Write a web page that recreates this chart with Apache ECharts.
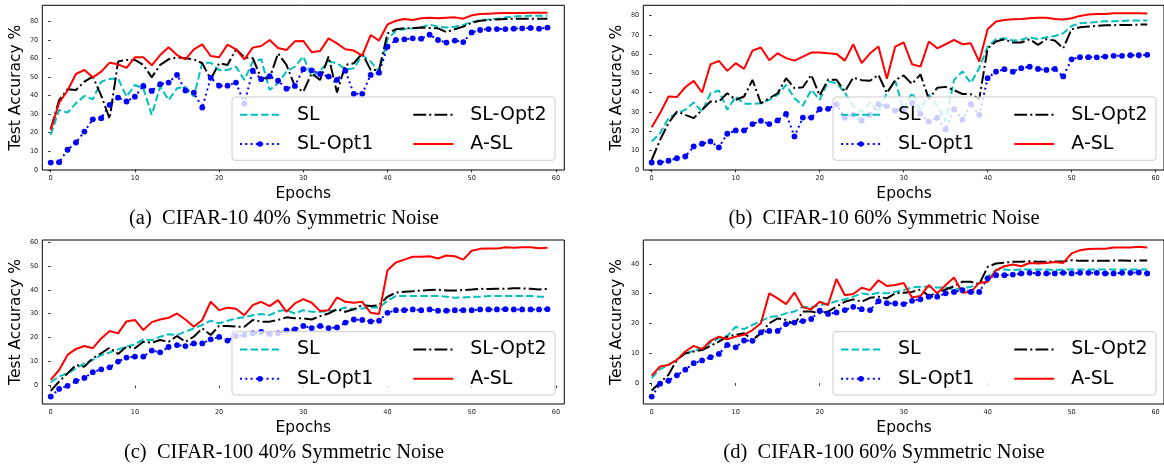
<!DOCTYPE html>
<html>
<head>
<meta charset="utf-8">
<script src="https://cdn.jsdelivr.net/npm/echarts@6/dist/echarts.min.js"></script>
<style>html,body{margin:0;padding:0;background:#fff;}#chart{width:1164px;height:468px;}</style>
</head>
<body>
<div id="chart"></div>
<script>
// ---------------- data ----------------
const seriesNames = ['SL', 'SL-Opt1', 'SL-Opt2', 'A-SL'];
const xTicks = [0, 10, 20, 30, 40, 50, 60];
const yTicksA = [0, 10, 20, 30, 40, 50, 60, 70, 80];
const yTicksB = [0, 10, 20, 30, 40, 50, 60, 70, 80];
const yTicksC = [0, 10, 20, 30, 40, 50, 60];
const yTicksD = [0, 10, 20, 30, 40];
const captions = ['(a)  CIFAR-10 40% Symmetric Noise', '(b)  CIFAR-10 60% Symmetric Noise',
                  '(c)  CIFAR-100 40% Symmetric Noise', '(d)  CIFAR-100 60% Symmetric Noise'];

// (a) CIFAR-10 40%
const a_SL = [18.8,32.3,30.8,35.9,39.8,38.0,47.5,48.9,49.3,39.4, 45.7,43.9,29.6,44.8,37.6,43.9,44.8,39.4,57.7,57.7,
  53.8,53.8,55.6,48.4,58.3,59.5,43.0,46.6,52.9,55.6, 61.0,50.2,53.4,58.3,57.4,54.1,54.7,61.8,58.3,52.9,
  70.3,74.9,75.7,76.2,76.7,78.2,77.1,76.7,77.1,78.0, 79.6,80.7,81.0,81.4,82.1,82.5,82.8,83.0,83.0,83.0];
const a_Opt1 = [3.9,4.1,10.8,14.7,20.6,27.2,27.8,35.0,38.9,36.8, 39.4,45.2,42.5,46.1,47.0,51.1,42.7,41.6,33.5,49.6,
  45.3,45.3,47.0,35.7,53.4,48.8,50.4,48.0,43.7,45.2, 54.2,53.6,51.6,50.2,48.4,53.4,40.9,40.9,51.1,52.3,
  66.3,69.9,70.3,70.8,70.6,72.8,69.9,68.5,69.6,68.8, 74.0,75.3,75.8,75.8,75.8,76.0,76.2,76.4,76.0,76.6];
const a_Opt2 = [21.9,37.6,43.4,43.0,47.5,50.2,40.0,27.5,58.3,59.2, 59.2,56.5,49.8,56.5,59.5,60.6,60.1,59.5,57.4,48.8,
  57.4,56.5,64.9,60.6,60.1,49.3,49.3,62.7,56.5,45.0, 42.0,52.0,48.4,61.0,41.6,56.5,57.4,62.7,53.8,53.8,
  73.5,75.7,76.2,76.2,76.6,76.4,76.2,74.2,75.7,77.1, 79.2,80.3,80.7,81.0,81.2,81.4,81.4,81.4,81.4,81.4];
const a_ASL = [21.5,36.2,42.7,51.6,53.8,49.8,52.9,57.7,56.8,54.9, 60.6,60.6,56.3,61.8,66.0,61.8,59.5,64.9,67.6,61.3,
  60.6,67.4,64.9,59.5,65.8,66.7,69.9,65.6,64.5,69.2, 69.4,63.3,64.0,70.8,68.1,64.9,64.2,61.5,72.6,69.6,
  78.3,80.3,81.2,80.7,81.6,81.9,81.6,81.9,82.1,81.4, 83.2,83.9,84.1,84.3,84.4,84.4,84.5,84.6,84.6,84.6];

// (b) CIFAR-10 60%
const b_SL = [14.7,19.0,26.8,29.4,31.1,34.9,30.2,39.7,41.1,31.1, 38.0,34.2,34.2,34.5,36.3,38.9,44.0,37.1,33.2,41.5,
  36.3,45.8,45.0,40.0,33.0,30.0,35.0,30.0,40.0,46.0, 31.0,40.0,31.0,39.0,33.0,25.0,46.6,51.0,45.0,52.7,
  63.9,67.7,68.2,67.0,67.4,68.7,67.7,68.7,69.4,70.8, 74.6,76.0,76.3,76.7,77.0,77.0,77.2,77.4,77.4,77.4];
const b_Opt1 = [3.8,3.8,4.7,6.0,6.9,12.1,13.5,14.7,11.6,18.7, 20.4,20.4,23.7,25.4,23.7,25.6,29.0,17.3,27.1,27.1,
  31.4,31.6,33.9,27.0,28.5,25.5,28.5,34.0,33.0,30.7, 31.0,34.6,29.0,25.0,27.0,21.0,31.5,26.0,34.0,28.5,
  47.5,50.9,52.2,50.9,52.7,53.5,52.3,51.8,52.3,48.4, 57.3,58.4,58.4,58.3,58.7,59.1,59.1,59.4,59.4,59.6];
const b_Opt2 = [5.2,15.5,24.2,30.2,28.5,26.8,31.1,35.4,35.4,39.7, 36.3,38.0,46.6,34.5,37.1,39.7,47.5,42.3,42.8,49.2,
  38.5,46.8,46.7,40.6,47.8,46.5,46.2,49.2,39.8,46.5, 48.9,44.5,49.5,36.7,42.5,43.0,41.3,39.3,39.2,36.6,
  63.0,66.5,67.7,66.0,66.0,67.7,64.8,67.7,67.0,63.0, 72.9,73.9,74.3,74.6,75.0,75.0,75.1,75.1,75.3,75.3];
const b_ASL = [22.1,29.4,38.0,37.7,42.8,46.1,40.1,54.7,56.5,51.3, 55.3,52.3,61.8,63.4,56.8,60.4,57.9,56.6,58.7,60.8,
  60.8,60.4,60.1,56.6,65.1,55.3,60.4,63.9,47.2,63.9, 66.1,54.7,53.5,66.5,63.0,65.1,67.4,65.1,65.6,56.1,
  72.9,76.9,77.7,78.1,78.2,78.6,78.8,78.8,78.2,77.9, 78.6,79.8,80.5,80.8,80.8,81.2,81.2,81.2,81.2,81.0];

// (c) CIFAR-100 40%
const c_SL = [1.4,3.8,5.1,7.2,9.3,10.7,12.8,13.8,15.1,16.3, 17.2,19.3,19.0,20.4,21.4,21.1,22.5,23.9,25.3,27.1,
  26.0,27.1,28.1,28.5,29.4,29.9,29.4,31.1,31.5,30.1, 31.5,30.8,30.8,31.1,31.5,32.6,31.9,32.2,32.6,32.6,
  35.4,37.4,37.4,37.4,37.4,37.4,37.4,37.1,36.7,36.8, 37.1,37.1,37.4,37.4,37.4,37.4,37.4,37.4,37.1,37.1];
const c_Opt1 = [-4.6,-1.4,-0.1,1.9,3.2,5.6,6.8,7.6,10.0,11.7, 12.1,12.1,14.6,13.9,16.1,16.9,16.5,17.6,17.6,19.3,
  20.3,18.8,20.7,21.1,21.8,22.4,21.5,21.8,23.0,23.5, 24.9,24.0,24.9,24.0,24.3,26.3,27.6,27.4,26.8,27.1,
  30.4,31.5,31.5,31.8,31.5,31.8,31.3,31.3,31.5,31.5, 31.5,31.8,31.8,31.8,31.9,31.8,31.8,31.8,31.8,31.9];
const c_Opt2 = [-2.2,1.7,5.1,8.6,7.9,11.4,13.5,15.8,13.2,16.3, 15.6,18.3,17.9,19.0,18.3,20.7,18.3,20.4,23.9,21.1,
  24.9,24.9,24.6,24.6,27.4,26.7,26.7,27.4,28.5,28.1, 28.1,27.6,29.0,30.1,31.9,30.8,31.9,33.6,33.2,33.6,
  37.1,38.8,39.2,39.4,39.7,39.9,40.1,39.7,39.7,39.9, 40.1,40.4,40.3,40.4,40.4,40.6,40.6,40.4,40.1,40.4];
const c_ASL = [2.4,6.5,12.8,15.3,16.5,15.6,19.7,22.8,21.8,26.8, 27.4,23.2,26.5,27.6,28.3,30.1,27.6,24.6,27.4,35.0,
  31.5,32.5,32.1,29.4,33.6,35.0,33.2,35.7,30.8,34.3, 36.1,34.6,31.1,31.5,36.8,35.0,34.6,35.0,30.4,29.9,
  48.2,51.4,52.6,53.8,53.8,54.0,53.1,54.3,54.0,52.6, 56.3,57.1,57.2,57.2,57.8,57.6,57.8,57.8,57.4,57.6];

// (d) CIFAR-100 60%
const d_SL = [1.7,4.7,6.1,8.0,9.8,10.9,11.7,13.6,15.0,15.8, 18.9,18.1,19.5,20.9,22.1,22.5,23.4,24.0,25.6,25.4,
  26.2,26.5,27.5,28.1,29.0,30.1,29.7,30.3,30.1,30.6, 31.2,32.1,32.3,32.3,32.1,32.1,31.4,31.8,32.3,33.4,
  35.7,37.9,38.1,37.9,38.1,38.1,38.1,38.1,37.9,38.1, 38.1,38.1,38.1,38.1,38.1,38.1,38.1,38.1,38.1,38.1];
const d_Opt1 = [-4.5,-0.2,0.8,2.6,4.5,6.7,7.6,8.7,9.8,12.8, 12.0,14.3,14.2,17.0,17.5,17.5,19.8,20.3,20.8,21.5,
  24.3,23.2,23.7,24.5,25.6,24.8,24.5,27.5,26.8,26.7, 26.5,27.6,28.1,29.0,29.0,30.1,30.6,31.2,30.6,30.6,
  35.1,36.2,36.2,36.4,36.8,37.0,36.8,36.8,36.8,37.0, 36.8,37.0,37.0,37.0,36.8,36.8,37.0,37.0,37.1,36.8];
const d_Opt2 = [-2.5,0.2,2.8,7.8,10.0,10.6,11.1,12.5,13.9,15.6, 16.2,16.7,14.5,16.7,20.1,21.7,21.2,19.8,24.0,24.0,
  23.4,24.0,25.6,27.3,28.1,27.3,28.6,29.0,28.4,30.1, 30.3,30.6,31.4,29.2,30.3,31.4,32.5,34.0,34.0,33.2,
  39.0,40.1,40.4,40.7,40.7,40.9,40.7,40.7,40.8,40.8, 41.2,41.0,41.0,41.0,41.0,41.1,41.1,41.0,41.1,41.1];
const d_ASL = [2.5,5.6,6.1,7.8,10.6,12.5,11.4,14.2,15.6,14.7, 15.6,16.2,17.8,20.1,30.1,28.4,26.5,30.4,25.4,24.8,
  27.3,26.2,34.9,29.5,29.9,32.0,31.2,34.5,32.6,32.9, 33.6,28.7,29.2,32.9,30.1,32.9,35.4,30.3,30.6,33.6,
  34.0,37.9,39.2,39.8,39.2,40.3,40.1,40.3,40.6,40.3, 43.5,44.6,45.0,45.1,45.1,45.5,45.5,45.5,45.7,45.5];

// ---------------- layout / style ----------------
const FONT = 'DejaVu Sans';
const panels = [
  { data: [a_SL, a_Opt1, a_Opt2, a_ASL], yTicks: yTicksA, yMin: -0.1, yMax: 88.6, left: 42.3, top: 5.3, width: 522, height: 164.7 },
  { data: [b_SL, b_Opt1, b_Opt2, b_ASL], yTicks: yTicksB, yMin: -0.1, yMax: 85.3, left: 643.3, top: 5.3, width: 522.6, height: 164.7 },
  { data: [c_SL, c_Opt1, c_Opt2, c_ASL], yTicks: yTicksC, yMin: -7.7, yMax: 60.8, left: 42.3, top: 240, width: 522, height: 164 },
  { data: [d_SL, d_Opt1, d_Opt2, d_ASL], yTicks: yTicksD, yMin: -7.0, yMax: 48.0, left: 643.3, top: 240, width: 522.6, height: 164 }
];
const styles = [
  { color: '#00bfbf', type: [7.4, 3.2], symbol: 'none' },
  { color: '#0000ff', type: [2, 3.3], symbol: 'circle' },
  { color: '#000000', type: [12.8, 3.2, 2, 3.2], symbol: 'none' },
  { color: '#ff0000', type: 'solid', symbol: 'none' }
];

const grid = [], xAxis = [], yAxis = [], series = [], legend = [], graphics = [];
panels.forEach((p, pi) => {
  grid.push({ left: p.left, top: p.top, width: p.width, height: p.height, show: true,
    borderColor: '#000', borderWidth: 1, backgroundColor: 'transparent', containLabel: false });
  const tickCommon = { show: true, inside: false, length: 2.6, lineStyle: { color: '#000', width: 0.8 } };
  const labelCommon = { fontSize: 6.6, color: '#222', fontFamily: FONT };
  xAxis.push({ type: 'value', gridIndex: pi, min: -1, max: 61,
    axisLine: { show: false }, splitLine: { show: false },
    axisTick: Object.assign({ customValues: xTicks }, tickCommon),
    axisLabel: Object.assign({ customValues: xTicks, margin: 4.5 }, labelCommon) });
  yAxis.push({ type: 'value', gridIndex: pi, min: p.yMin, max: p.yMax,
    axisLine: { show: false }, splitLine: { show: false },
    axisTick: Object.assign({ customValues: p.yTicks }, tickCommon),
    axisLabel: Object.assign({ customValues: p.yTicks, margin: 4 }, labelCommon) });
  p.data.forEach((vals, si) => {
    const st = styles[si];
    series.push({
      type: 'line', name: seriesNames[si], xAxisIndex: pi, yAxisIndex: pi,
      data: vals.map((v, i) => [i, v]),
      symbol: st.symbol, symbolSize: 5.8, showSymbol: st.symbol !== 'none',
      itemStyle: { color: st.color }, lineStyle: { color: st.color, width: 2, type: st.type },
      silent: true, animation: false, z: 2
    });
  });
  // legend box
  const bx = p.left + 189.7, by = p.top + 91.7;
  graphics.push({ type: 'rect', z: 3, shape: { x: bx, y: by, width: 323, height: 63.3, r: 3 },
    style: { fill: 'rgba(255,255,255,0.8)', stroke: '#cccccc', lineWidth: 1 } });
  const cols = [bx + 7, bx + 180.3];
  const rows = [by + 14.7, by + 44];
  const order = [[0, 0, 0], [1, 0, 1], [2, 1, 0], [3, 1, 1]]; // [series, col, row]
  order.forEach(([si, c, r]) => {
    const item = { name: seriesNames[si] };
    if (styles[si].symbol === 'none') item.itemStyle = { color: 'rgba(0,0,0,0)', borderWidth: 0, opacity: 0 };
    legend.push({ show: true, data: [item], left: cols[c], top: rows[r] - 6.5,
      orient: 'horizontal', itemWidth: 40, itemHeight: 7, padding: 0, selectedMode: false, z: 5,
      textStyle: { fontSize: 19, color: '#000', fontFamily: FONT, padding: [0, 0, 0, 12] } });
  });
  // axis names
  graphics.push({ type: 'text', x: p.left + p.width / 2 + (pi % 2 ? -0.5 : 0), y: p.top + p.height + 24, z: 5,
    style: { text: 'Epochs', font: '15.5px "DejaVu Sans"', fill: '#000', align: 'center', verticalAlign: 'middle',
      textAlign: 'center', textVerticalAlign: 'middle' } });
  graphics.push({ type: 'text', x: p.left - 26.3, y: p.top + p.height / 2, rotation: Math.PI / 2, z: 5,
    style: { text: 'Test Accuracy %', font: '15.5px "DejaVu Sans"', fill: '#000', align: 'center', verticalAlign: 'middle',
      textAlign: 'center', textVerticalAlign: 'middle' } });
  // caption
  graphics.push({ type: 'text', x: (pi % 2 ? 884 : 284), y: (pi < 2 ? 219 : 453), z: 5,
    style: { text: captions[pi], font: '20.5px "Liberation Serif"', fill: '#000', align: 'center', verticalAlign: 'middle',
      textAlign: 'center', textVerticalAlign: 'middle' } });
});

const chart = echarts.init(document.getElementById('chart'), null, { renderer: 'canvas' });
chart.setOption({
  animation: false,
  backgroundColor: '#ffffff',
  textStyle: { fontFamily: FONT },
  grid, xAxis, yAxis, series, legend,
  graphic: { elements: graphics }
});
</script>
</body>
</html>
